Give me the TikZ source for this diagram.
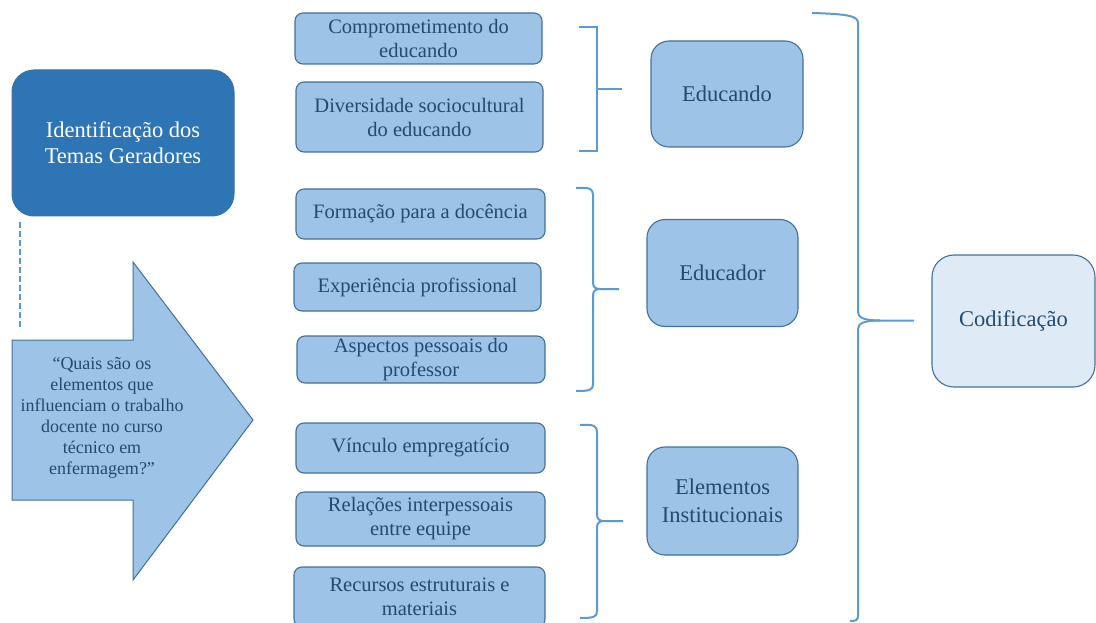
\documentclass[tikz,border=0pt]{standalone}
\usepackage{fontspec}
\setmainfont{Liberation Serif}
\definecolor{lblue}{HTML}{9DC3E6}
\definecolor{bord}{HTML}{41719C}
\definecolor{dblue}{HTML}{2E75B6}
\definecolor{txt}{HTML}{244A6E}
\definecolor{brc}{HTML}{5B9BD5}
\definecolor{pale}{HTML}{DEEBF7}
\tikzset{
  smallbox/.style={draw=bord, line width=1.1pt, fill=lblue, rounded corners=8pt, align=center, text=txt, font=\fontsize{20.5}{24}\selectfont, inner sep=0pt},
  bigbox/.style={draw=bord, line width=1.1pt, fill=lblue, rounded corners=18pt, align=center, text=txt, font=\fontsize{22.5}{28}\selectfont, inner sep=0pt, minimum width=151pt, minimum height=107pt},
  brace/.style={draw=brc, line width=2pt},
}
\begin{document}
\begin{tikzpicture}[x=1pt,y=-1pt]
\useasboundingbox (0,0) rectangle (1096,623);
\begin{scope}
\clip (0,0) rectangle (1096,623);
% Identificacao
\node[draw=bord!70!dblue, line width=1pt, fill=dblue, rounded corners=22pt, minimum width=222pt, minimum height=146pt, align=center, text=white, font=\fontsize{22.5}{26}\selectfont, inner sep=0pt] (ident) at (123,143) {Identificação dos\\Temas Geradores};
% dashed line
\coordinate (d1) at (20,222);
\coordinate (d2) at (20,330);
\draw[brc, line width=2pt, dash pattern=on 6pt off 3pt] (d1) -- (d2);
% arrow
\draw[draw=bord, line width=1pt, fill=lblue] (12,340) -- (133,340) -- (133,262) -- (253,420) -- (133,580) -- (133,500) -- (12,500) -- cycle;
\node[align=center, text=txt, font=\fontsize{18}{21}\selectfont] (q) at (102,418) {“Quais são os\\elementos que\\influenciam o trabalho\\docente no curso\\técnico em\\enfermagem?”};
% small boxes
\node[smallbox, minimum width=247pt, minimum height=51pt] (b1) at (418.5,38.5) {Comprometimento do\\educando};
\node[smallbox, minimum width=247pt, minimum height=70pt] (b2) at (419.5,117) {Diversidade sociocultural\\do educando};
\node[smallbox, minimum width=249pt, minimum height=50pt] (b3) at (420.5,214) {Formação para a docência};
\node[smallbox, minimum width=247pt, minimum height=48pt] (b4) at (417.5,287) {Experiência profissional};
\node[smallbox, minimum width=248pt, minimum height=47pt] (b5) at (421,359.5) {Aspectos pessoais do\\professor};
\node[smallbox, minimum width=249pt, minimum height=50pt] (b6) at (420.5,448) {Vínculo empregatício};
\node[smallbox, minimum width=249pt, minimum height=54pt] (b7) at (420.5,519) {Relações interpessoais\\entre equipe};
\node[smallbox, minimum width=251pt, minimum height=60pt] (b8) at (419.5,597) {Recursos estruturais e\\materiais};
% big boxes
\node[bigbox, minimum height=106pt, minimum width=152pt] (e1) at (727,94) {Educando};
\node[bigbox] (e2) at (722.5,273) {Educador};
\node[bigbox, minimum height=108pt] (e3) at (722.5,501) {Elementos\\Institucionais};
\node[draw=bord, line width=1.1pt, fill=pale, rounded corners=22pt, minimum width=163pt, minimum height=132pt, text=txt, font=\fontsize{22.5}{27}\selectfont, inner sep=0pt] (cod) at (1013.5,321) {Codificação};
% brackets
\draw[brace] (579,27) -- (596.5,27) -- (596.5,151) -- (579,151);
\draw[brace] (596.5,89) -- (622,89);
\draw[brace] (576,188) .. controls (590,187) and (593,189) .. (593,195) -- (593,282)
  .. controls (593,287) and (595,289) .. (600,289) -- (619,289);
\draw[brace] (600,289) .. controls (595,289) and (593,291) .. (593,296) -- (593,384)
  .. controls (593,390) and (590,391) .. (576,391);
\draw[brace] (580,425) .. controls (594,424) and (597,426) .. (597,432) -- (597,514)
  .. controls (597,519) and (599,521) .. (604,521) -- (623,521);
\draw[brace] (604,521) .. controls (599,521) and (597,523) .. (597,528) -- (597,611)
  .. controls (597,617) and (594,618) .. (580,618);
\draw[brace] (812,13) .. controls (848,14) and (858,16) .. (858,23) -- (858,312)
  .. controls (858,318) and (865,320.5) .. (880,320.5) -- (914,320.5);
\draw[brace] (880,320.5) .. controls (865,320.5) and (858,323) .. (858,329) -- (858,616)
  .. controls (858,620) and (856,621) .. (850,621);
\end{scope}
\end{tikzpicture}
\end{document}
